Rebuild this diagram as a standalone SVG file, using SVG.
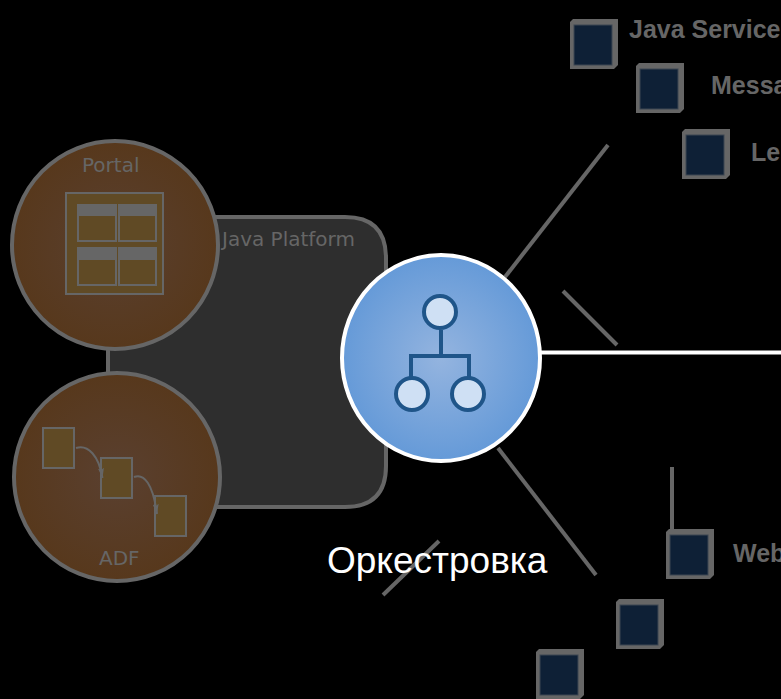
<svg xmlns="http://www.w3.org/2000/svg" width="781" height="699" viewBox="0 0 781 699">
<style>
.g{stroke:#666;fill:none}
.soft{font-family:"DejaVu Sans",sans-serif;font-size:20px;fill:#666}
.bold{font-family:"Liberation Sans",Arial,sans-serif;font-size:25px;font-weight:bold;fill:#666}
.sq{fill:#666}
.sqi{fill:#0e2036;stroke:#3c4652;stroke-width:1}
.brown{fill:url(#bg);stroke:#666;stroke-width:4}
.tan{fill:#604a25;stroke:#666;stroke-width:2}
.hdr{fill:#666}
.ic{fill:#cfe0f4;stroke:#1f5589;stroke-width:4}
.flow{fill:none;stroke:#666;stroke-width:2;marker-end:url(#ah)}
</style>
<defs>
<radialGradient id="bg"><stop offset="0" stop-color="#5a4030"/><stop offset="1" stop-color="#57381c"/></radialGradient>
<radialGradient id="blue"><stop offset="0" stop-color="#94b4df"/><stop offset="1" stop-color="#659ad8"/></radialGradient>
<symbol id="cube" overflow="visible"><path class="sq" d="M3 0H48V46L44 50H0V3Z"/><rect class="sqi" x="4" y="6" width="38" height="40"/></symbol>
<marker id="ah" markerWidth="11" markerHeight="7" refX="10" refY="3" orient="auto" markerUnits="userSpaceOnUse"><path d="M0 0L10 3L0 6L2 3Z" fill="#666"/></marker>
</defs>
<rect width="781" height="699" fill="#000"/>
<g id="java-platform">
<path d="M108 217H345Q386 217 386 258V466Q386 507 345 507H108Z" fill="#2e2e2e" stroke="#666" stroke-width="4"/>
<text class="soft" x="222" y="246">Java Platform</text>
</g>
<g id="connectors" class="g">
<path d="M608 145L505 277" stroke-width="4"/>
<path d="M563 291L617 345" stroke-width="4"/>
<path d="M540 352.500H781" stroke="#fff" stroke-width="4"/>
<path d="M498 448L596 575" stroke-width="4"/>
<path d="M672 467V530" stroke-width="4"/>
<path d="M439 541L383 595" stroke-width="4"/>
</g>
<g id="portal">
<ellipse class="brown" cx="115" cy="245" rx="103" ry="104"/>
<text class="soft" x="82" y="172">Portal</text>
<rect class="tan" x="66" y="193" width="97" height="101"/>
<rect class="tan" x="78" y="205" width="38" height="36"/><rect class="hdr" x="78" y="205" width="38" height="11"/>
<rect class="tan" x="119" y="205" width="37" height="36"/><rect class="hdr" x="119" y="205" width="37" height="11"/>
<rect class="tan" x="78" y="248" width="38" height="37"/><rect class="hdr" x="78" y="248" width="38" height="12"/>
<rect class="tan" x="119" y="248" width="37" height="37"/><rect class="hdr" x="119" y="248" width="37" height="12"/>
</g>
<g id="adf">
<ellipse class="brown" cx="117" cy="477" rx="103" ry="104"/>
<rect class="tan" x="43" y="428" width="31" height="40"/>
<rect class="tan" x="101" y="458" width="31" height="40"/>
<rect class="tan" x="155" y="496" width="31" height="40"/>
<path class="flow" d="M76 448C88 444 99 456 102.500 478"/>
<path class="flow" d="M134 477C144 473 153 484 157 514"/>
<text class="soft" x="99" y="565">ADF</text>
</g>
<g id="orchestration">
<ellipse cx="441" cy="358" rx="99" ry="103" fill="url(#blue)" stroke="#fff" stroke-width="4"/>
<path d="M441 330V356M411 378V356H469V378" fill="none" stroke="#1f5589" stroke-width="4"/>
<circle class="ic" cx="440" cy="312" r="16"/>
<circle class="ic" cx="412" cy="394" r="16"/>
<circle class="ic" cx="468" cy="394" r="16"/>
</g>
<text id="orchestration-label" x="327" y="573" font-family="Liberation Sans,Arial,sans-serif" font-size="37" fill="#fff">Оркестровка</text>
<g id="java-service"><use href="#cube" x="570" y="19"/><text class="bold" x="629" y="38">Java Service</text></g>
<g id="messaging"><use href="#cube" x="636" y="63"/><text class="bold" x="711" y="94">Messa</text></g>
<g id="legacy"><use href="#cube" x="682" y="129"/><text class="bold" x="751" y="161">Le</text></g>
<g id="web"><use href="#cube" x="666" y="529"/><text class="bold" x="733" y="562">Web</text></g>
<g id="node-5"><use href="#cube" x="616" y="599"/></g>
<g id="node-6"><use href="#cube" x="536" y="649"/></g>
</svg>
